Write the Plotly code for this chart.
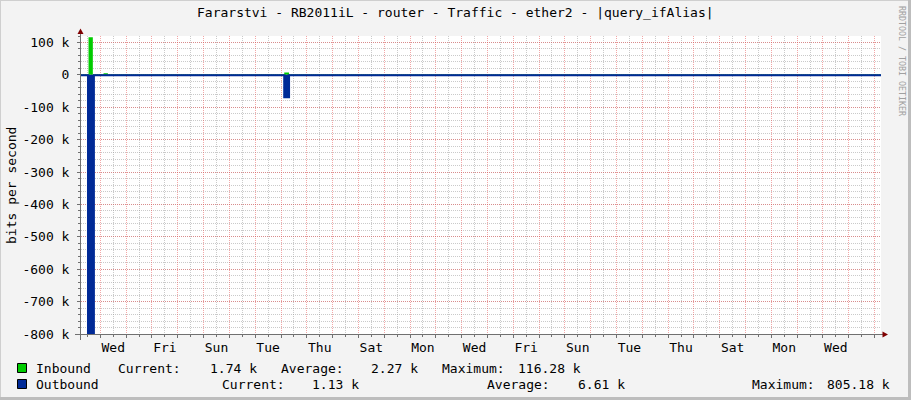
import plotly.graph_objects as go

# ---------------- data ----------------
title_text = "Fararstvi - RB2011iL - router - Traffic - ether2 - |query_ifAlias|"
y_title = "bits per second"
watermark = "RRDTOOL / TOBI OETIKER"

range_start = "2013-12-31 06:00"
range_end = "2014-01-31 06:00"

in_times = ["2013-12-31 06:00", "2013-12-31 13:00", "2013-12-31 17:00",
            "2014-01-01 03:00", "2014-01-01 07:00", "2014-01-08 03:00",
            "2014-01-08 07:30", "2014-01-31 06:00"]
in_bps = [1650, 116280, 1800, 5000, 1700, 7000, 1900, 1740]

out_times = ["2013-12-31 06:00", "2013-12-31 12:30", "2013-12-31 18:00",
             "2014-01-08 03:00", "2014-01-08 07:30", "2014-01-31 06:00"]
out_bps = [1150, 805180, 1100, 69000, 1100, 1130]

tick_days = ["2014-01-01", "2014-01-03", "2014-01-05", "2014-01-07", "2014-01-09",
             "2014-01-11", "2014-01-13", "2014-01-15", "2014-01-17", "2014-01-19",
             "2014-01-21", "2014-01-23", "2014-01-25", "2014-01-27", "2014-01-29"]
tick_labels = ["Wed", "Fri", "Sun", "Tue", "Thu", "Sat", "Mon", "Wed", "Fri", "Sun",
               "Tue", "Thu", "Sat", "Mon", "Wed"]

y_tick_vals = [-800000, -700000, -600000, -500000, -400000, -300000, -200000,
               -100000, 0, 100000]
y_tick_labels = ["-800 k", "-700 k", "-600 k", "-500 k", "-400 k", "-300 k",
                 "-200 k", "-100 k", "0", "100 k"]

series_names = ["Inbound", "Outbound"]
series_colors = ["#00CC00", "#002A97"]
current_k = [1.74, 1.13]
average_k = [2.27, 6.61]
maximum_k = [116.28, 805.18]

# ---------------- styling ----------------
FONT = "DejaVu Sans Mono"
W, H = 911, 400
L, R, T, B = 81, 881, 36, 334
BACK = "#F3F3F3"
GRID = "rgba(150,150,150,0.5)"
MGRID = "rgba(230,80,80,0.5)"
AXIS = "#707070"
ARROW = "#7F0000"


def xp(px):
    return (px - L) / (R - L)


def yp(py):
    return (B - py) / (B - T)


fig = go.Figure()

fig.add_trace(go.Scatter(
    x=in_times, y=in_bps, mode="lines", line_shape="hv",
    line=dict(color=series_colors[0], width=0), fill="tozeroy",
    fillcolor=series_colors[0], showlegend=False, hoverinfo="skip"))
fig.add_trace(go.Scatter(
    x=out_times, y=[-v for v in out_bps], mode="lines", line_shape="hv",
    line=dict(color=series_colors[1], width=2), fill="tozeroy",
    fillcolor=series_colors[1], showlegend=False, hoverinfo="skip"))
# helper trace for the grid axis
fig.add_trace(go.Scatter(x=[range_start, range_end], y=[0, 0], mode="none",
                         xaxis="x2", showlegend=False, hoverinfo="skip"))

fig.update_layout(
    width=W, height=H,
    margin=dict(l=L, r=W - R, t=T, b=H - B, autoexpand=False),
    paper_bgcolor=BACK, plot_bgcolor="#FFFFFF",
    font=dict(family=FONT, size=13, color="#000000"),
    xaxis=dict(type="date", range=[range_start, range_end],
               tickmode="array", tickvals=[d + " 12:00" for d in tick_days],
               ticktext=tick_labels, showgrid=False, zeroline=False,
               showline=False, ticks="", ticklabelstandoff=4,
               tickfont=dict(family=FONT, size=13)),
    xaxis2=dict(type="date", range=[range_start, range_end], overlaying="x",
                anchor="y", side="bottom", tickmode="linear",
                tick0="2014-01-01 00:00", dtick=86400000,
                showticklabels=False, showgrid=True, gridcolor=MGRID,
                griddash="1px,1px", gridwidth=1, zeroline=False,
                showline=True, linecolor=AXIS, linewidth=1,
                ticks="outside", ticklen=3, tickcolor=AXIS,
                minor=dict(tickmode="linear", tick0="2014-01-01 12:00",
                           dtick=43200000, showgrid=True, gridcolor=GRID,
                           griddash="1px,1px", gridwidth=1,
                           ticks="outside", ticklen=2, tickcolor=AXIS)),
    yaxis=dict(range=[-800000, 120000], tickmode="array",
               tickvals=y_tick_vals, ticktext=y_tick_labels,
               showgrid=True, gridcolor=MGRID, griddash="1px,1px",
               zeroline=False, showline=True, linecolor=AXIS, linewidth=1,
               ticks="outside", ticklen=3, tickcolor=AXIS,
               ticklabelstandoff=5,
               tickfont=dict(family=FONT, size=13),
               minor=dict(tickmode="linear", tick0=0, dtick=20000,
                          showgrid=True, gridcolor=GRID, griddash="1px,1px",
                          ticks="outside", ticklen=2, tickcolor=AXIS)),
)

shapes = []
# frame around the image
shapes.append(dict(type="line", xref="paper", yref="paper", x0=xp(0), x1=xp(W),
                   y0=yp(0.5), y1=yp(0.5), line=dict(color="#CFCFCF", width=1)))
shapes.append(dict(type="line", xref="paper", yref="paper", x0=xp(0.5), x1=xp(0.5),
                   y0=yp(0), y1=yp(H), line=dict(color="#CFCFCF", width=1)))
shapes.append(dict(type="line", xref="paper", yref="paper", x0=xp(0), x1=xp(W),
                   y0=yp(H - 1.5), y1=yp(H - 1.5), line=dict(color="#BDBDBD", width=3)))
shapes.append(dict(type="line", xref="paper", yref="paper", x0=xp(W - 1.5), x1=xp(W - 1.5),
                   y0=yp(0), y1=yp(H), line=dict(color="#BDBDBD", width=3)))
# axis extensions
shapes.append(dict(type="line", xref="paper", yref="paper", x0=xp(80.5), x1=xp(80.5),
                   y0=yp(30), y1=yp(340), line=dict(color=AXIS, width=1)))
shapes.append(dict(type="line", xref="paper", yref="paper", x0=xp(75), x1=xp(884),
                   y0=yp(334.5), y1=yp(334.5), line=dict(color=AXIS, width=1)))
# arrows
shapes.append(dict(type="path", xref="paper", yref="paper",
                   path=f"M {xp(80.5)},{yp(28.5)} L {xp(77.5)},{yp(34)} L {xp(83.5)},{yp(34)} Z",
                   fillcolor=ARROW, line=dict(color=ARROW, width=0)))
shapes.append(dict(type="path", xref="paper", yref="paper",
                   path=f"M {xp(888)},{yp(334.5)} L {xp(882.5)},{yp(331.5)} L {xp(882.5)},{yp(337.5)} Z",
                   fillcolor=ARROW, line=dict(color=ARROW, width=0)))

annotations = []
annotations.append(dict(text=title_text, xref="paper", yref="paper",
                        x=xp(455.5), y=yp(13), xanchor="center", yanchor="middle",
                        showarrow=False, font=dict(family=FONT, size=13)))
annotations.append(dict(text=y_title, xref="paper", yref="paper",
                        x=xp(11), y=yp(186), xanchor="center", yanchor="middle",
                        textangle=-90, showarrow=False, font=dict(family=FONT, size=13)))
annotations.append(dict(text=watermark, xref="paper", yref="paper",
                        x=xp(902), y=yp(61), xanchor="center", yanchor="middle",
                        textangle=90, showarrow=False,
                        font=dict(family=FONT, size=8.3, color="#A0A0A0")))

# legend rows (pixel positions of each column)
row_y = [368, 384]
col_cur_label = [116, 220]
col_cur_val = [259, 361]
col_avg_label = [279, 485]
col_avg_val = [420, 627]
col_max_label = [440, 750]
col_max_val = [583, 892]

for i, name in enumerate(series_names):
    y = row_y[i]
    shapes.append(dict(type="rect", xref="paper", yref="paper",
                       x0=xp(17.5), x1=xp(26.5), y0=yp(y - 4.5), y1=yp(y + 4.5),
                       fillcolor=series_colors[i], line=dict(color="#000000", width=1)))
    items = [
        (name, 34, "left"),
        ("Current:", col_cur_label[i], "left"),
        (f"{current_k[i]:.2f} k", col_cur_val[i], "right"),
        ("Average:", col_avg_label[i], "left"),
        (f"{average_k[i]:.2f} k", col_avg_val[i], "right"),
        ("Maximum:", col_max_label[i], "left"),
        (f"{maximum_k[i]:.2f} k", col_max_val[i], "right"),
    ]
    for txt, x, anc in items:
        annotations.append(dict(text=txt, xref="paper", yref="paper",
                                x=xp(x), y=yp(y), xanchor=anc, yanchor="middle",
                                showarrow=False, font=dict(family=FONT, size=13)))

fig.update_layout(shapes=shapes, annotations=annotations)

fig.write_html("out.html", config={"displayModeBar": False},
               post_script="document.body.style.margin='0';document.body.style.overflow='hidden';")
